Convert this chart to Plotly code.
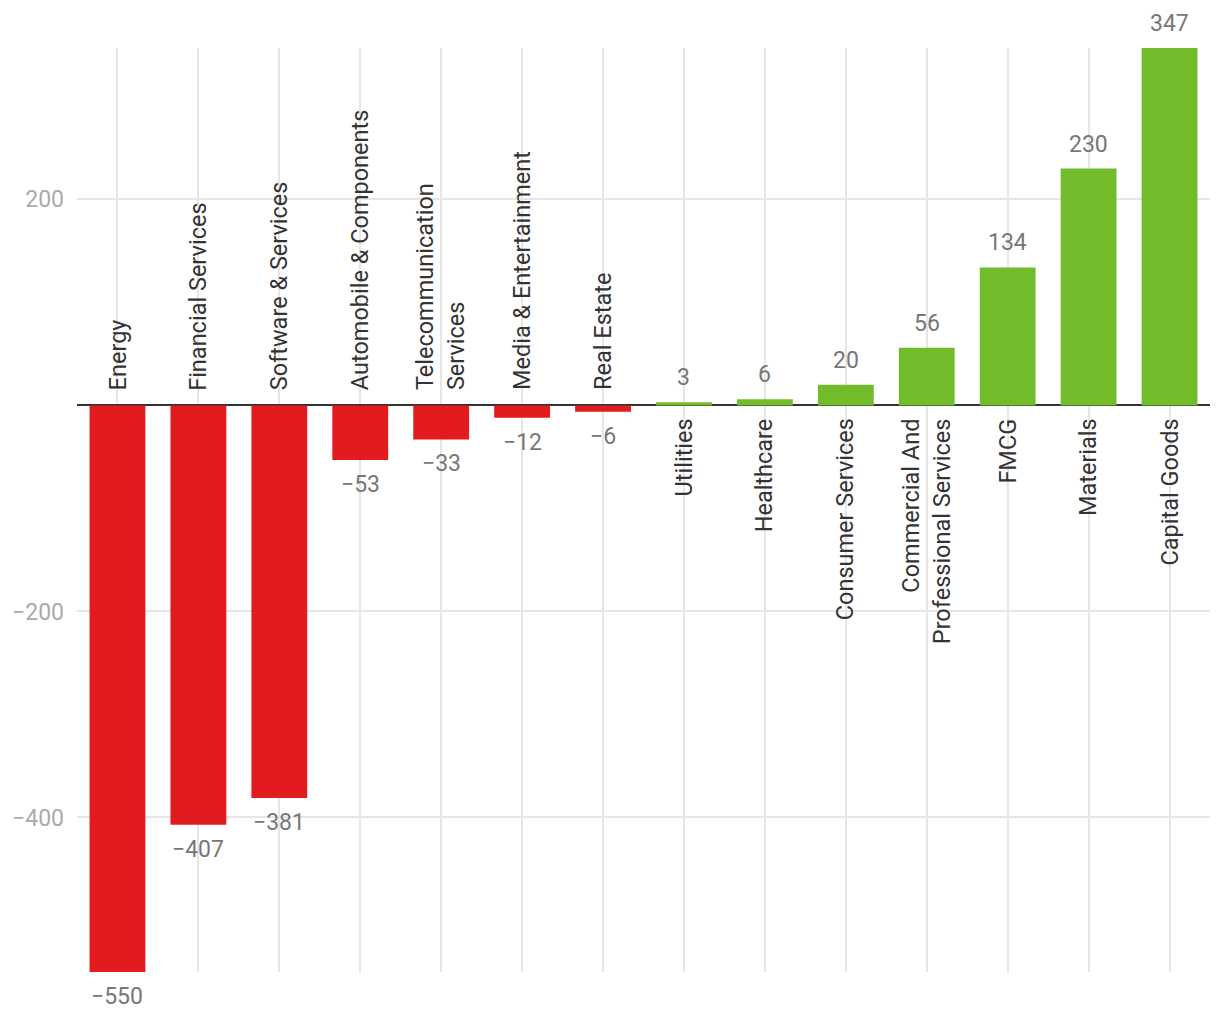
import plotly.graph_objects as go

categories = ["Energy", "Financial Services", "Software & Services", "Automobile & Components",
              "Telecommunication<br>Services", "Media & Entertainment", "Real Estate", "Utilities",
              "Healthcare", "Consumer Services", "Commercial And<br>Professional Services", "FMCG",
              "Materials", "Capital Goods"]
values = [-550, -407, -381, -53, -33, -12, -6, 3, 6, 20, 56, 134, 230, 347]
tick_vals = [-400, -200, 200]
tick_text = ["−400", "−200", "200"]

RED = "#e21b1e"
GREEN = "#72bc2b"
colors = [RED if v < 0 else GREEN for v in values]
xs = list(range(len(categories)))

fig = go.Figure()
fig.add_trace(go.Bar(
    x=xs, y=values, marker=dict(color=colors, line=dict(width=0)),
    width=0.69, cliponaxis=False, hoverinfo="skip",
))

for x, c, v in zip(xs, categories, values):
    label = f"{v}".replace("-", "−")
    if v < 0:
        fig.add_annotation(x=x, y=0, text=c, textangle=-90, showarrow=False,
                           xanchor="center", yanchor="bottom", yshift=13, align="left",
                           font=dict(family="Roboto", size=23.5, color="#333333"))
        fig.add_annotation(x=x, y=v, text=label, showarrow=False,
                           xanchor="center", yanchor="top", yshift=-9,
                           font=dict(family="Roboto", size=23, color="#777777"))
    else:
        fig.add_annotation(x=x, y=0, text=c, textangle=-90, showarrow=False,
                           xanchor="center", yanchor="top", yshift=-11, align="right",
                           font=dict(family="Roboto", size=23.5, color="#333333"))
        fig.add_annotation(x=x, y=v, text=label, showarrow=False,
                           xanchor="center", yanchor="bottom", yshift=9,
                           font=dict(family="Roboto", size=23, color="#777777"))

fig.update_layout(
    width=1220, height=1020,
    margin=dict(l=69, r=18, t=40, b=56, autoexpand=False),
    plot_bgcolor="white", paper_bgcolor="white",
    showlegend=False, bargap=0.31,
    font=dict(family="Roboto"),
    xaxis=dict(range=[-0.5, len(categories) - 0.5], tickvals=xs, showticklabels=False,
               showgrid=True, gridcolor="#e6e6e6", gridwidth=2, zeroline=False,
               ticks="", showline=False, automargin=False),
    yaxis=dict(range=[-550, 347], tickvals=tick_vals, ticktext=tick_text,
               showgrid=True, gridcolor="#e6e6e6", gridwidth=2,
               zeroline=True, zerolinecolor="#333333", zerolinewidth=2,
               tickfont=dict(family="Roboto", size=23, color="#aaaaaa"),
               ticks="", ticklen=0, ticklabelstandoff=12,
               showline=False, automargin=False),
)

fig.write_html("out.html")
